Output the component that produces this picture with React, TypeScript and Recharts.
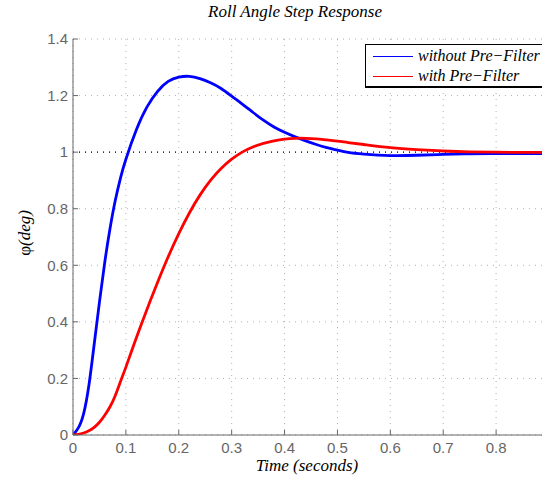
import { LineChart, Line, XAxis, YAxis, CartesianGrid, ReferenceLine } from 'recharts'

// step response samples
const time = [
  0, 0.01, 0.02, 0.03, 0.04, 0.05, 0.06, 0.07, 0.08, 0.09, 0.1, 0.12, 0.14, 0.16, 0.18, 0.2, 0.22, 0.24,
  0.26, 0.28, 0.3, 0.32, 0.34, 0.36, 0.38, 0.4, 0.42, 0.44, 0.46, 0.48, 0.5, 0.52, 0.55, 0.6, 0.65, 0.7,
  0.75, 0.8, 0.85, 0.9,
]
const withoutPreFilter = [
  0, 0.025, 0.075, 0.175, 0.32, 0.47, 0.61, 0.73, 0.83, 0.91, 0.975, 1.08, 1.16, 1.215, 1.25, 1.265, 1.268,
  1.26, 1.245, 1.225, 1.198, 1.17, 1.141, 1.113, 1.089, 1.07, 1.054, 1.04, 1.027, 1.016, 1.007, 0.999,
  0.993, 0.988, 0.989, 0.992, 0.994, 0.995, 0.995, 0.995,
]
const withPreFilter = [
  0, 0.002, 0.007, 0.015, 0.027, 0.045, 0.07, 0.1, 0.14, 0.19, 0.24, 0.345, 0.445, 0.54, 0.63, 0.712, 0.785,
  0.848, 0.9, 0.942, 0.975, 1.0, 1.018, 1.031, 1.04, 1.046, 1.049, 1.049, 1.047, 1.043, 1.039, 1.034,
  1.027, 1.016, 1.009, 1.004, 1.001, 1.0, 0.999, 0.999,
]
const xTicks = [0, 0.1, 0.2, 0.3, 0.4, 0.5, 0.6, 0.7, 0.8]
const yTicks = [0, 0.2, 0.4, 0.6, 0.8, 1, 1.2, 1.4]

const data = time.map((t, i) => ({ t, without: withoutPreFilter[i], with: withPreFilter[i] }))

const sans = "'Liberation Sans', Arial, sans-serif"
const serif = "'Liberation Serif', 'Times New Roman', serif"
const tickStyle = { fill: '#666', fontSize: 15, fontFamily: sans }

export default function App() {
  return (
    <div style={{ position: 'absolute', left: 0, top: 0, width: 542, height: 481, overflow: 'hidden', background: '#fff' }}>
      <LineChart width={542} height={481} data={data} margin={{ top: 39, right: -7, bottom: 16, left: 13 }}>
        <CartesianGrid stroke="#b0b0b0" strokeDasharray="1 5" horizontalValues={yTicks} verticalValues={xTicks} />
        <XAxis
          dataKey="t"
          type="number"
          domain={[0, 0.9]}
          ticks={xTicks}
          tick={tickStyle}
          tickSize={-5}
          tickMargin={12}
          stroke="#666"
          height={30}
          allowDataOverflow
        />
        <XAxis
          xAxisId="top"
          orientation="top"
          dataKey="t"
          type="number"
          domain={[0, 0.9]}
          ticks={xTicks}
          tick={false}
          tickSize={-5}
          stroke="#666"
          height={0}
        />
        <YAxis
          type="number"
          domain={[0, 1.4]}
          ticks={yTicks}
          tick={tickStyle}
          tickSize={-5}
          tickMargin={10}
          stroke="#666"
          width={60}
          allowDataOverflow
        />
        <ReferenceLine y={1} stroke="#000" strokeDasharray="1 5" strokeWidth={1.2} />
        <Line type="natural" dataKey="without" stroke="#0000ff" strokeWidth={2.8} dot={false} isAnimationActive={false} />
        <Line type="natural" dataKey="with" stroke="#ff0000" strokeWidth={2.8} dot={false} isAnimationActive={false} />
      </LineChart>

      <svg width={542} height={481} style={{ position: 'absolute', left: 0, top: 0, pointerEvents: 'none' }}>
        <text x={295} y={17} textAnchor="middle" fontFamily={serif} fontStyle="italic" fontSize={17} fill="#000">
          Roll Angle Step Response
        </text>
        <text x={307} y={471} textAnchor="middle" fontFamily={serif} fontStyle="italic" fontSize={17} fill="#000">
          Time (seconds)
        </text>
        <text transform="translate(30,233) rotate(-90)" textAnchor="middle" fontFamily={serif} fontSize={17} fill="#000">
          <tspan>φ</tspan>
          <tspan fontStyle="italic">(deg)</tspan>
        </text>
      </svg>

      <div
        style={{
          position: 'absolute',
          left: 365,
          top: 44,
          width: 190,
          height: 41,
          border: '1px solid #000',
          borderBottomWidth: 2,
          background: '#fff',
          fontFamily: serif,
          fontStyle: 'italic',
          fontSize: 16,
          color: '#000',
        }}
      >
        {[
          { name: 'without Pre−Filter', color: '#0000ff' },
          { name: 'with Pre−Filter', color: '#ff0000' },
        ].map((item, i) => (
          <div key={item.name} style={{ position: 'absolute', left: 7, top: 1 + i * 20, height: 20, display: 'flex', alignItems: 'center', whiteSpace: 'nowrap' }}>
            <div style={{ width: 40, height: 1, background: item.color, marginRight: 5 }} />
            <span>{item.name}</span>
          </div>
        ))}
      </div>
    </div>
  )
}
